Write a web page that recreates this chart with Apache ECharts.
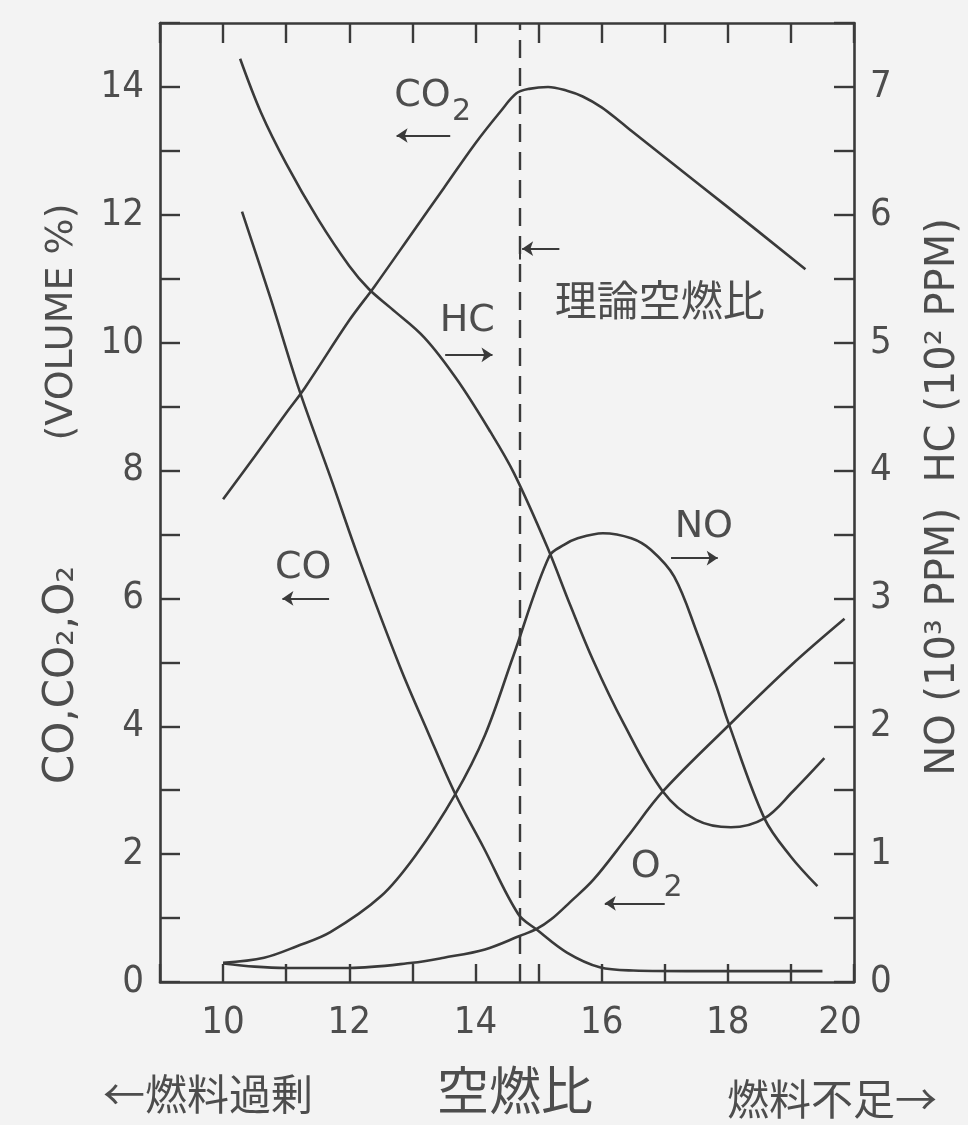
<!DOCTYPE html>
<html><head><meta charset="utf-8">
<script src="https://cdn.jsdelivr.net/npm/echarts@6.0.0/dist/echarts.min.js"></script>
<style>html,body{margin:0;padding:0;background:#f3f3f3}#c{width:968px;height:1125px}</style>
</head><body><div id="c"></div>
<script>
// ---------- data ----------
const xTickLabels = [10, 12, 14, 16, 18, 20];
const leftTickLabels = [0, 2, 4, 6, 8, 10, 12, 14];
const rightTickLabels = [0, 1, 2, 3, 4, 5, 6, 7];
const stoichAFR = 14.7;

// left axis (volume %)
const co2X = [10, 10.5, 11, 11.3, 12, 12.4, 13, 13.5, 14, 14.4, 14.65, 14.85, 15.15, 15.45, 15.7, 16.0, 16.3, 16.5, 17, 18, 19.23];
const co2Y = [7.55, 8.22, 8.9, 9.3, 10.35, 10.88, 11.72, 12.42, 13.12, 13.62, 13.9, 13.97, 14.0, 13.94, 13.85, 13.68, 13.45, 13.29, 12.9, 12.12, 11.15];
const coX = [10.3, 10.75, 11.2, 11.7, 12.15, 12.8, 13.25, 13.68, 14.13, 14.68, 14.97, 15.45, 15.97, 16.5, 17.5, 18.5, 19.5];
const coY = [12.05, 10.7, 9.28, 7.9, 6.63, 4.94, 3.9, 2.94, 2.1, 1.06, 0.82, 0.46, 0.23, 0.18, 0.17, 0.17, 0.17];
const o2X = [10, 10.5, 11, 12, 13, 13.5, 14.15, 14.7, 14.97, 15.2, 15.5, 15.87, 16.4, 16.97, 18, 19, 19.85];
const o2Y = [0.29, 0.24, 0.22, 0.22, 0.3, 0.38, 0.51, 0.72, 0.83, 0.98, 1.25, 1.6, 2.26, 2.98, 4.0, 4.95, 5.68];
// right axis (NO: 10^3 ppm, HC: 10^2 ppm)
const noX = [10, 10.65, 11.17, 11.7, 12.5, 13.05, 13.67, 14.15, 14.6, 15.17, 15.41, 15.62, 16.02, 16.47, 16.78, 17.15, 17.52, 17.82, 18.0, 18.58, 19.0, 19.42];
const noY = [0.15, 0.19, 0.28, 0.39, 0.67, 0.99, 1.46, 1.93, 2.55, 3.33, 3.42, 3.47, 3.51, 3.47, 3.38, 3.17, 2.72, 2.31, 2.04, 1.28, 0.98, 0.75];
const hcX = [10.27, 10.6, 11.0, 11.5, 12.0, 12.31, 12.66, 13.19, 13.71, 14.24, 14.61, 15.14, 15.5, 15.87, 16.34, 16.97, 17.49, 18.05, 18.58, 19.03, 19.53];
const hcY = [7.22, 6.8, 6.4, 5.97, 5.6, 5.42, 5.27, 5.04, 4.71, 4.3, 3.98, 3.4, 2.95, 2.51, 2.03, 1.49, 1.27, 1.21, 1.28, 1.49, 1.75];

// annotation arrows [x1, y1, x2, y2] in left-axis data units (head at x2,y2)
const arrowCO2 = [13.6, 13.24, 12.75, 13.24];
const arrowHC = [13.52, 9.81, 14.27, 9.81];
const arrowNO = [17.1, 6.63, 17.84, 6.63];
const arrowCO = [11.68, 6.0, 10.94, 6.0];
const arrowO2 = [17.0, 1.23, 16.05, 1.23];
const arrowStoich = [15.33, 11.47, 14.74, 11.47];

// ---------- styles ----------
const LINE = '#3a3a3a';
const TXT = '#4d4d4d';
const NUMFONT = '"DejaVu Sans Condensed", "DejaVu Sans", sans-serif';
const SANS = '"DejaVu Sans", sans-serif';
const CJK = '"Noto Sans CJK JP", sans-serif';

function pairs(xs, ys) { return xs.map((x, i) => [x, ys[i]]); }
function arrow(a) { return [{coord: [a[0], a[1]], symbol: 'none'}, {coord: [a[2], a[3]], symbol: 'arrow'}]; }

const chart = echarts.init(document.getElementById('c'), null, {renderer: 'canvas'});

const axisLineStyle = {color: LINE, width: 2.6};
const tickStyle = {color: LINE, width: 2.4};
const numLabel = {color: TXT, fontSize: 38, fontFamily: NUMFONT};

const lineSeries = (name, xs, ys, yIdx) => ({
  name, type: 'line', xAxisIndex: 0, yAxisIndex: yIdx, data: pairs(xs, ys),
  smooth: 0.35, symbol: 'none', silent: true,
  lineStyle: {color: LINE, width: 2.6}
});

const option = {
  backgroundColor: '#f3f3f3',
  animation: false,
  grid: {left: 160, right: 114, top: 23, bottom: 143, containLabel: false},
  xAxis: [
    {
      type: 'value', min: 9, max: 20, interval: 1, position: 'bottom',
      axisLine: {onZero: false, lineStyle: axisLineStyle},
      axisTick: {inside: true, length: 18, lineStyle: tickStyle},
      axisLabel: Object.assign({}, numLabel, {
        margin: 22,
        formatter: v => xTickLabels.indexOf(v) >= 0 ? (v === 20 ? '{r|20}' : String(v)) : '',
        rich: {r: Object.assign({}, numLabel, {padding: [0, 28, 0, 0]})}
      }),
      splitLine: {show: false}
    },
    {
      type: 'value', min: 9, max: 20, interval: 1, position: 'top',
      axisLine: {onZero: false, lineStyle: axisLineStyle},
      axisTick: {inside: true, length: 20, lineStyle: tickStyle},
      axisLabel: {show: false},
      splitLine: {show: false}
    }
  ],
  yAxis: [
    {
      type: 'value', min: 0, max: 15, interval: 1, position: 'left',
      axisLine: {show: true, onZero: false, lineStyle: axisLineStyle},
      axisTick: {show: true, inside: true, length: 20, lineStyle: tickStyle},
      axisLabel: Object.assign({}, numLabel, {
        margin: 16,
        formatter: v => leftTickLabels.indexOf(v) >= 0 ? String(v) : ''
      }),
      splitLine: {show: false}
    },
    {
      type: 'value', min: 0, max: 7.5, interval: 0.5, position: 'right',
      axisLine: {show: true, onZero: false, lineStyle: axisLineStyle},
      axisTick: {show: true, inside: true, length: 20, lineStyle: tickStyle},
      axisLabel: Object.assign({}, numLabel, {
        margin: 16,
        formatter: v => rightTickLabels.indexOf(v) >= 0 ? String(v) : ''
      }),
      splitLine: {show: false}
    }
  ],
  series: [
    lineSeries('CO2', co2X, co2Y, 0),
    lineSeries('CO', coX, coY, 0),
    lineSeries('O2', o2X, o2Y, 0),
    lineSeries('HC', hcX, hcY, 1),
    lineSeries('NO', noX, noY, 1),
    {
      name: 'annotations', type: 'line', xAxisIndex: 0, yAxisIndex: 0, data: [], silent: true,
      markLine: {
        silent: true, animation: false, symbolSize: 11,
        label: {show: false},
        lineStyle: {color: LINE, width: 2, type: 'solid'},
        emphasis: {disabled: true},
        data: [
          [{coord: [stoichAFR, 0], symbol: 'none', lineStyle: {type: [18, 10], width: 2.4, color: LINE}},
           {coord: [stoichAFR, 15], symbol: 'none'}],
          [{coord: [stoichAFR, 11.3], symbol: 'none'}, {coord: [stoichAFR, 11.64], symbol: 'none'}],
          arrow(arrowCO2), arrow(arrowHC), arrow(arrowNO), arrow(arrowCO), arrow(arrowO2), arrow(arrowStoich)
        ]
      }
    }
  ]
};
chart.setOption(option);

// ---------- text annotations placed in data coordinates ----------
const annoLabels = [
  {text: 'CO', x: 13.16, y: 13.86, size: 38, font: SANS},
  {text: '2', x: 13.78, y: 13.6, size: 30, font: SANS},
  {text: 'HC', x: 13.87, y: 10.34, size: 38, font: SANS},
  {text: 'NO', x: 17.62, y: 7.12, size: 38, font: SANS},
  {text: 'CO', x: 11.27, y: 6.47, size: 38, font: SANS},
  {text: 'O', x: 16.7, y: 1.8, size: 38, font: SANS},
  {text: '2', x: 17.13, y: 1.47, size: 30, font: SANS},
  {text: '理論空燃比', x: 16.92, y: 10.67, size: 42, font: CJK}
];
const graphics = annoLabels.map(a => {
  const p = chart.convertToPixel({xAxisIndex: 0, yAxisIndex: 0}, [a.x, a.y]);
  return {type: 'text', x: p[0], y: p[1], silent: true,
    style: {text: a.text, fontSize: a.size, fontFamily: a.font, fill: TXT, align: 'center', verticalAlign: 'middle'}};
});
// axis titles (rotated, reading bottom to top)
const rot = Math.PI / 2;
graphics.push(
  {type: 'text', x: 62, y: 322, rotation: rot, silent: true, style: {text: '(VOLUME %)', fontSize: 38, fontFamily: SANS, fill: TXT, align: 'center', verticalAlign: 'middle'}},
  {type: 'text', x: 62, y: 675, rotation: rot, silent: true, style: {text: 'CO,CO₂,O₂', fontSize: 42, fontFamily: SANS, fill: TXT, align: 'center', verticalAlign: 'middle'}},
  {type: 'text', x: 944, y: 497, rotation: rot, silent: true, style: {text: 'NO (10³ PPM)  HC (10² PPM)', fontSize: 40, fontFamily: SANS, fill: TXT, align: 'center', verticalAlign: 'middle'}}
);
// captions under the x axis
graphics.push(
  {type: 'text', x: 515, y: 1090, silent: true, style: {text: '空燃比', fontSize: 52, fontFamily: CJK, fill: TXT, align: 'center', verticalAlign: 'middle'}},
  {type: 'text', x: 208, y: 1094, silent: true, style: {text: '←燃料過剰', fontSize: 42, fontFamily: CJK, fill: TXT, align: 'center', verticalAlign: 'middle'}},
  {type: 'text', x: 832, y: 1099, silent: true, style: {text: '燃料不足→', fontSize: 42, fontFamily: CJK, fill: TXT, align: 'center', verticalAlign: 'middle'}}
);
chart.setOption({graphic: graphics});
</script></body></html>
